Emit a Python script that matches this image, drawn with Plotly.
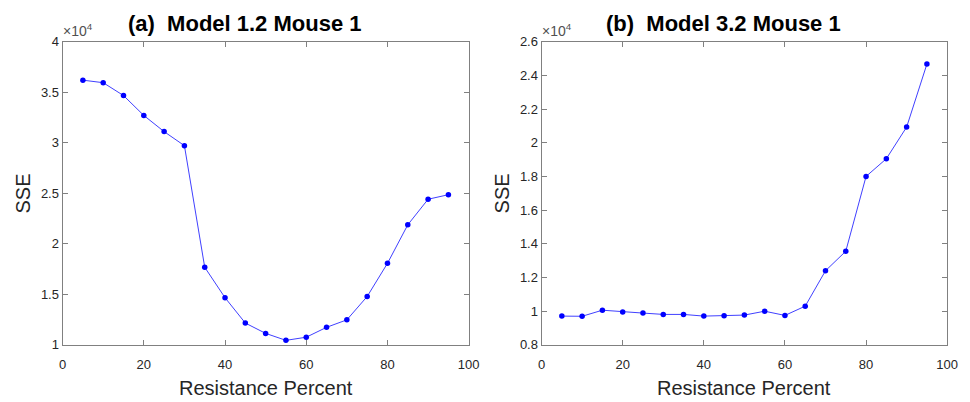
import plotly.graph_objects as go

# Data
resistance = [5, 10, 15, 20, 25, 30, 35, 40, 45, 50, 55, 60, 65, 70, 75, 80, 85, 90, 95]
sse_a = [36190, 35940, 34670, 32700, 31100, 29710, 17680, 14670, 12160, 11140, 10450,
         10760, 11740, 12480, 14790, 18070, 21880, 24410, 24860]
sse_b = [9710, 9700, 10060, 9960, 9890, 9810, 9810, 9710, 9730, 9770, 10000,
         9750, 10300, 12400, 13560, 18000, 19050, 20930, 24670]

x_ticks = [0, 20, 40, 60, 80, 100]
x_tick_text = ["0", "20", "40", "60", "80", "100"]
ya_ticks = [10000, 15000, 20000, 25000, 30000, 35000, 40000]
ya_tick_text = ["1", "1.5", "2", "2.5", "3", "3.5", "4"]
yb_ticks = [8000, 10000, 12000, 14000, 16000, 18000, 20000, 22000, 24000, 26000]
yb_tick_text = ["0.8", "1", "1.2", "1.4", "1.6", "1.8", "2", "2.2", "2.4", "2.6"]

titles = ["<b>(a)  Model 1.2 Mouse 1</b>", "<b>(b)  Model 3.2 Mouse 1</b>"]

W, H = 970, 402
FONT = "Liberation Sans, Arial, sans-serif"
AX = "#808080"
TXT = "#262626"

fig = go.Figure()
line_style = dict(color="#4040ff", width=1)
marker_style = dict(color="#0000ff", size=5.5)
fig.add_trace(go.Scatter(x=resistance, y=sse_a, mode="lines+markers", line=line_style,
                         marker=marker_style, xaxis="x", yaxis="y", showlegend=False))
fig.add_trace(go.Scatter(x=resistance, y=sse_b, mode="lines+markers", line=line_style,
                         marker=marker_style, xaxis="x2", yaxis="y2", showlegend=False))

ydom = [1 - 351 / H, 1 - 36 / H]
xdom_a = [59.5 / W, 472 / W]
xdom_b = [546 / W, 958 / W]

common_axis = dict(showline=True, linecolor=AX, linewidth=1, mirror="ticks",
                   ticks="inside", ticklen=5, tickcolor=AX, tickwidth=1,
                   showgrid=False, zeroline=False,
                   tickfont=dict(family=FONT, size=13, color=TXT))

fig.update_layout(
    width=W, height=H, margin=dict(l=0, r=0, t=0, b=0),
    paper_bgcolor="white", plot_bgcolor="white",
    xaxis=dict(domain=xdom_a, range=[0, 100], tickvals=x_ticks, ticktext=x_tick_text,
               anchor="y", ticklabelstandoff=7, **common_axis),
    yaxis=dict(domain=ydom, range=[10000, 40000], tickvals=ya_ticks, ticktext=ya_tick_text,
               anchor="x", **common_axis),
    xaxis2=dict(domain=xdom_b, range=[0, 100], tickvals=x_ticks, ticktext=x_tick_text,
                anchor="y2", ticklabelstandoff=7, **common_axis),
    yaxis2=dict(domain=ydom, range=[8000, 26000], tickvals=yb_ticks, ticktext=yb_tick_text,
                anchor="x2", **common_axis),
)

ann = []
for i, (xd, t) in enumerate(zip([xdom_a, xdom_b], titles)):
    cx = (xd[0] + xd[1]) / 2
    # title
    ann.append(dict(text=t, x=cx - 21 / W, y=1 - 17 / H, xref="paper", yref="paper",
                    showarrow=False, xanchor="center", yanchor="middle",
                    font=dict(family=FONT, size=22, color="black")))
    # x label
    ann.append(dict(text="Resistance Percent", x=cx, y=1 - 396 / H, xref="paper", yref="paper",
                    showarrow=False, xanchor="center", yanchor="middle",
                    font=dict(family=FONT, size=20, color=TXT)))
    # y label
    ann.append(dict(text="SSE", x=xd[0] - 40 / W, y=(ydom[0] + ydom[1]) / 2,
                    xref="paper", yref="paper", showarrow=False, textangle=-90,
                    xanchor="center", yanchor="middle",
                    font=dict(family=FONT, size=20, color=TXT)))
    # exponent
    ann.append(dict(text="×10<sup>4</sup>", x=xd[0] - 2 / W, y=ydom[1] + 1 / H, xref="paper",
                    yref="paper", showarrow=False, xanchor="left", yanchor="bottom",
                    font=dict(family=FONT, size=14, color="#505050")))
fig.update_layout(annotations=ann)

fig.write_html("out.html")
